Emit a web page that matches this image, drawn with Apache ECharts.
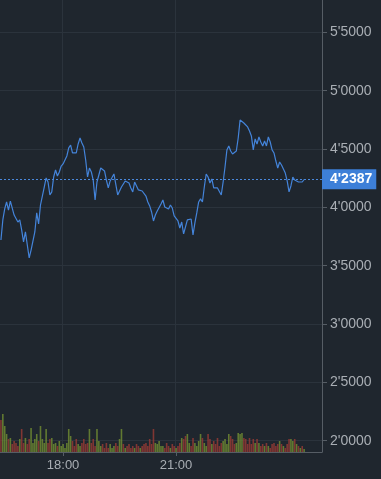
<!DOCTYPE html>
<html>
<head>
<meta charset="utf-8">
<script src="https://cdn.jsdelivr.net/npm/echarts@6/dist/echarts.min.js"></script>
<style>
html,body{margin:0;padding:0;background:#1f262e;}
#chart{width:381px;height:479px;}
</style>
</head>
<body>
<div id="chart"></div>
<script>
// ---- data ----
var startTime = '16:21';
var stepMinutes = 3;
var categoryCount = 171;
var xTickLabels = ['18:00', '21:00'];
var yTicks = [2.0, 2.5, 3.0, 3.5, 4.0, 4.5, 5.0, 5.5];
var lastPrice = 4.2387;

var priceValues = [
 3.720,3.892,3.986,4.046,3.977,4.054,4.037,3.934,3.917,3.874,
 3.892,3.806,3.703,3.789,3.677,3.566,3.634,3.643,3.789,3.952,
 3.857,4.020,4.037,4.174,4.252,4.217,4.106,4.132,4.260,4.320,
 4.269,4.303,4.354,4.372,4.380,4.440,4.509,4.534,4.466,4.466,
 4.466,4.543,4.594,4.552,4.517,4.406,4.260,4.337,4.303,4.234,
 4.063,4.217,4.277,4.337,4.320,4.312,4.234,4.166,4.226,4.234,
 4.286,4.269,4.106,4.114,4.174,4.166,4.226,4.209,4.209,4.166,
 4.132,4.217,4.183,4.149,4.166,4.140,4.123,4.097,4.046,4.012,
 3.960,3.883,3.934,3.969,3.977,4.029,4.063,4.003,4.003,3.986,
 4.020,3.994,3.926,3.934,3.883,3.823,3.874,3.772,3.763,3.892,
 3.900,3.900,3.763,3.866,3.952,4.046,4.072,4.046,4.174,4.286,
 4.260,4.209,4.243,4.166,4.166,4.166,4.157,4.106,4.217,4.346,
 4.492,4.526,4.483,4.457,4.440,4.483,4.594,4.749,4.766,4.723,
 4.714,4.689,4.654,4.612,4.492,4.586,4.543,4.603,4.560,4.526,
 4.569,4.526,4.603,4.560,4.492,4.466,4.397,4.337,4.389,4.363,
 4.380,4.294,4.226,4.132,4.183,4.260,4.234,4.243,4.217,4.226,
 4.217,4.2387
];

var volumeValues = [
 32,38,26,18,13,14,8,11,9,6,
 13,23,9,14,8,13,24,9,13,18,
 11,26,13,9,23,9,13,14,8,9,
 6,11,6,8,4,9,23,16,11,6,
 13,8,6,9,13,8,9,23,9,13,
 6,23,11,6,8,4,9,4,8,4,
 6,9,6,13,23,8,4,6,8,4,
 6,4,8,6,4,6,8,9,6,13,
 8,23,9,8,11,6,6,4,9,6,
 4,8,6,4,6,9,14,13,16,18,
 9,6,14,9,6,11,18,14,9,6,
 18,13,8,11,8,14,6,9,11,13,
 8,18,16,13,8,9,19,18,19,14,
 13,8,14,8,13,9,13,9,6,8,
 6,9,6,4,8,9,6,8,11,8,
 6,4,8,13,13,11,13,8,6,4,
 6,3
];

// ---- build categories (time labels) ----
var categories = [];
(function(){
  var p = startTime.split(':');
  var m = parseInt(p[0],10)*60 + parseInt(p[1],10);
  for (var i = 0; i < categoryCount; i++) {
    var t = (m + i*stepMinutes) % (24*60);
    var hh = Math.floor(t/60), mm = t % 60;
    categories.push((hh<10?'0':'')+hh+':'+(mm<10?'0':'')+mm);
  }
})();

function fmt(v){ return v.toFixed(4).replace('.', "'"); }

var upColor = 'rgba(112,140,50,0.82)';
var downColor = 'rgba(146,58,52,0.85)';
var volumeData = volumeValues.map(function(v, i){
  var up = i > 0 && priceValues[i] > priceValues[i-1];
  return { value: v, itemStyle: { color: up ? upColor : downColor } };
});

function isTickLabel(idx, val){ return xTickLabels.indexOf(val) >= 0; }

var gridColor = '#2b333c';
var axisColor = '#565d65';
var textColor = '#a9aeb4';

var chart = echarts.init(document.getElementById('chart'), null, {renderer:'canvas'});
chart.setOption({
  animation: false,
  backgroundColor: '#1f262e',
  grid: [
    { left: 0, right: 59, top: 0, bottom: 27, containLabel: false, outerBoundsMode: 'none' },
    { left: 0, right: 59, top: -26, bottom: -20, containLabel: false, outerBoundsMode: 'none' }
  ],
  xAxis: [
    {
      gridIndex: 0, type: 'category', data: categories, boundaryGap: true,
      axisLine: { show: true, lineStyle: { color: axisColor, width: 1 } },
      axisTick: { show: true, interval: isTickLabel, alignWithLabel: true, length: 4, lineStyle: { color: axisColor } },
      axisLabel: { interval: isTickLabel, color: textColor, fontSize: 13, margin: 7, fontFamily: 'Liberation Sans, Arial, sans-serif' },
      splitLine: { show: true, interval: isTickLabel, lineStyle: { color: gridColor, width: 1 } }
    },
    {
      gridIndex: 1, type: 'category', data: categories, boundaryGap: true, show: false
    }
  ],
  yAxis: [
    {
      gridIndex: 0, type: 'value', min: 0, max: 452, position: 'right',
      axisLine: { show: true, lineStyle: { color: axisColor, width: 1 } },
      axisTick: { show: false }, axisLabel: { show: false }, splitLine: { show: false }
    },
    {
      gridIndex: 1, type: 'value', min: 1.5, max: 6.0, interval: 0.5, position: 'right',
      axisLine: { show: false },
      axisTick: { show: true, length: 5, lineStyle: { color: axisColor } },
      axisLabel: {
        color: textColor, fontSize: 14, margin: 8, fontFamily: 'Liberation Sans, Arial, sans-serif',
        formatter: function(v){ return yTicks.indexOf(Math.round(v*10)/10) >= 0 ? fmt(v) : ''; }
      },
      splitLine: { show: true, lineStyle: { color: gridColor, width: 1 } }
    }
  ],
  series: [
    {
      type: 'bar', xAxisIndex: 0, yAxisIndex: 0, data: volumeData,
      barCategoryGap: '15%', silent: true, z: 1
    },
    {
      type: 'line', xAxisIndex: 1, yAxisIndex: 1, data: priceValues,
      showSymbol: false, symbol: 'none', silent: true, z: 3,
      lineStyle: { color: '#4484da', width: 1.2 },
      markLine: {
        silent: true, symbol: ['none','none'], animation: false,
        lineStyle: { color: '#4a88dc', type: [2,2], width: 1 },
        label: {
          show: true, position: 'end', distance: 0,
          formatter: function(){ return fmt(lastPrice); },
          backgroundColor: '#3d7fd8', color: '#ffffff', fontWeight: 'bold', fontSize: 14,
          fontFamily: 'Liberation Sans, Arial, sans-serif',
          padding: [3, 4, 3, 8]
        },
        data: [{ yAxis: lastPrice }]
      }
    }
  ]
});
</script>
</body>
</html>
